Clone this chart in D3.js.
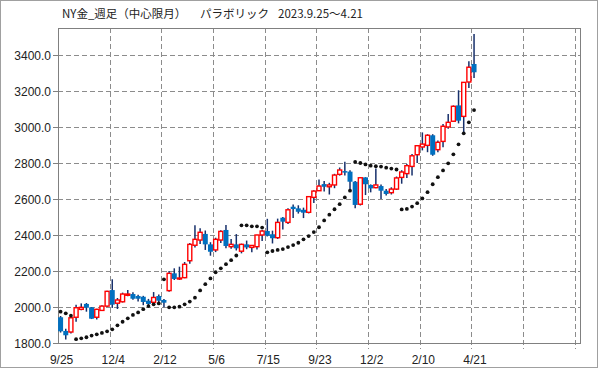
<!DOCTYPE html>
<html><head><meta charset="utf-8">
<script src="https://cdn.jsdelivr.net/npm/d3@7"></script>
<style>body{margin:0;background:#fff}svg{display:block}</style>
</head><body>
<script>
const weeks = ["9/25","10/2","10/9","10/16","10/23","10/30","11/6","11/13","11/20","11/27",
"12/4","12/11","12/18","12/25","1/1","1/8","1/15","1/22","1/29","2/5",
"2/12","3/4","3/11","3/18","3/25","4/1","4/8","4/15","4/22","4/29",
"5/6","5/13","5/20","5/27","6/3","6/10","6/17","6/24","7/1","7/8",
"7/15","7/22","7/29","8/5","8/12","8/19","8/26","9/2","9/9","9/16",
"9/23","9/30","10/7","10/14","10/21","10/28","11/4","11/11","11/18","11/25",
"12/2","12/9","12/16","12/23","12/30","1/6","1/13","1/20","1/27","2/3",
"2/10","2/17","2/24","3/3","3/10","3/17","3/24","3/31","4/7","4/14","4/21"];
const open  = [1943,1867,1861,1943,1987,2017,1998,1943,1981,2005,2094,2021,2029,2065,2072,2061,2057,2035,2026,2061,
2039,2091,2187,2157,2163,2257,2343,2372,2406,2348,2317,2372,2428,2335,2348,2310,2348,2331,2335,2400,
2422,2404,2385,2496,2470,2557,2548,2540,2526,2609,2646,2683,2668,2678,2737,2755,2752,2696,2571,2720,
2678,2663,2672,2646,2635,2655,2720,2741,2781,2846,2889,2898,2954,2874,2920,3000,3032,3120,3059,3250,3350];
const high  = [1950,1879,1946,2012,2020,2022,2000,1990,2010,2090,2154,2050,2080,2095,2082,2068,2062,2045,2083,2070,
2045,2200,2215,2224,2250,2355,2454,2437,2425,2360,2385,2427,2455,2378,2405,2352,2369,2345,2401,2428,
2490,2424,2491,2500,2549,2570,2565,2552,2614,2648,2709,2700,2690,2740,2775,2807,2760,2700,2721,2721,
2681,2770,2680,2655,2665,2725,2760,2795,2850,2900,2970,2960,2960,2925,3017,3072,3120,3204,3250,3365,3517];
const low   = [1858,1820,1853,1918,1982,1974,1933,1931,1978,2000,1995,1989,2025,2060,2040,2030,2010,2005,2022,2028,
1998,2085,2150,2150,2160,2240,2330,2350,2317,2285,2305,2355,2326,2323,2314,2298,2321,2304,2319,2367,
2392,2353,2378,2430,2461,2495,2519,2494,2520,2578,2645,2642,2625,2660,2730,2730,2646,2548,2564,2622,
2637,2660,2600,2620,2625,2650,2685,2717,2731,2800,2870,2860,2840,2860,2887,2990,3030,3020,2967,3217,3272];
const close = [1865,1843,1940,1996,1998,1996,1935,1987,2005,2087,2013,2039,2072,2072,2046,2046,2028,2017,2053,2035,
2024,2187,2156,2161,2237,2348,2376,2415,2348,2307,2376,2420,2339,2348,2326,2348,2331,2342,2400,2422,
2396,2382,2470,2474,2540,2544,2529,2524,2613,2644,2672,2668,2678,2733,2761,2748,2696,2567,2718,2682,
2659,2678,2646,2628,2655,2717,2750,2785,2840,2896,2905,2954,2846,2915,3004,3026,3115,3035,3248,3332,3304];
const sar   = [1974,1965,1952,1821,1826,1832,1841,1848,1856,1865,1876,1898,1918,1937,1956,1970,1988,2005,2015,2020,
2154,1998,1998,2002,2015,2030,2052,2092,2127,2159,2193,2215,2238,2260,2286,2454,2454,2448,2448,2441,
2304,2311,2317,2322,2333,2344,2357,2376,2394,2416,2443,2481,2513,2543,2571,2609,2646,2806,2800,2792,
2785,2782,2780,2774,2769,2764,2542,2545,2558,2577,2603,2638,2682,2721,2759,2798,2848,2904,2965,3026,3094];
const yTicks = [1800,2000,2200,2400,2600,2800,3000,3200,3400];
const xLabelIdx = [0,10,20,30,40,50,60,70,80];
const nSlots = 101;
const titleParts = ["NY金_週足（中心限月）","パラボリック","2023.9.25～4.21"];

const W=599,H=369, L=58, R=580, T=28, B=343;
const svg=d3.select("body").append("svg").attr("width",W).attr("height",H);
svg.append("rect").attr("x",0.5).attr("y",0.5).attr("width",W-2).attr("height",H-2)
  .attr("fill","#fff").attr("stroke","#a0a0a0");

const x=d3.scaleBand().domain(d3.range(nSlots)).range([L,R]).padding(0);
const bw=x.bandwidth();
const cx=i=>x(i)+bw/2;
const y=d3.scaleLinear().domain([1800,3550]).range([B,T]);

const grid=svg.append("g").attr("stroke","#8c8c8c").attr("stroke-dasharray","5,3").attr("stroke-width",1);
yTicks.filter(v=>v>1800).forEach(v=>{
  const yy=Math.round(y(v))+0.5;
  grid.append("line").attr("x1",L).attr("x2",R).attr("y1",yy).attr("y2",yy);
});
d3.range(10,nSlots,10).forEach(i=>{
  const xx=Math.round(x(i))+0.5;
  grid.append("line").attr("x1",xx).attr("x2",xx).attr("y1",T).attr("y2",B+6);
});

svg.append("rect").attr("x",L+0.5).attr("y",T+0.5).attr("width",R-L).attr("height",B-T)
  .attr("fill","none").attr("stroke","#808080");

// y axis ticks & labels
const yAxis=svg.append("g");
yTicks.forEach(v=>{
  const yy=Math.round(y(v))+0.5;
  yAxis.append("line").attr("x1",L-5).attr("x2",L).attr("y1",yy).attr("y2",yy).attr("stroke","#808080");
  yAxis.append("text").attr("x",L-7).attr("y",yy+4).attr("text-anchor","end")
    .attr("font-family","Liberation Sans, Arial, sans-serif").attr("font-size",12).attr("fill","#222")
    .text(v.toFixed(1));
});
// x labels
xLabelIdx.forEach(i=>{
  svg.append("text").attr("x",cx(i)+1).attr("y",364).attr("text-anchor","middle")
    .attr("font-family","Liberation Sans, Arial, sans-serif").attr("font-size",12).attr("fill","#222")
    .text(weeks[i]);
});

// candles
const g=svg.append("g");
weeks.forEach((w,i)=>{
  const xc=cx(i);
  g.append("line").attr("x1",xc).attr("x2",xc).attr("y1",y(high[i])).attr("y2",y(low[i]))
    .attr("stroke","#17306b").attr("stroke-width",1.5);
  const up=close[i]>=open[i];
  const top=y(Math.max(open[i],close[i])), bot=y(Math.min(open[i],close[i]));
  if(up){
    g.append("rect").attr("x",xc-2).attr("y",top).attr("width",4).attr("height",Math.max(bot-top,1))
      .attr("fill","#fff").attr("stroke","#ff0000").attr("stroke-width",1.4);
  } else {
    g.append("rect").attr("x",xc-2.5).attr("y",top).attr("width",5).attr("height",Math.max(bot-top,1.5))
      .attr("fill","#0070c0");
  }
});
// SAR dots
svg.append("g").selectAll("circle").data(sar).join("circle")
  .attr("cx",(d,i)=>cx(i)).attr("cy",d=>y(d)).attr("r",1.9).attr("fill","#111");

// title
const t=svg.append("text").attr("y",18).attr("font-family","Noto Sans CJK JP, sans-serif")
  .attr("font-size",11.5).attr("fill","#222");
[62,200,278].forEach((xx,k)=>t.append("tspan").attr("x",xx).text(titleParts[k]));
</script>
</body></html>
